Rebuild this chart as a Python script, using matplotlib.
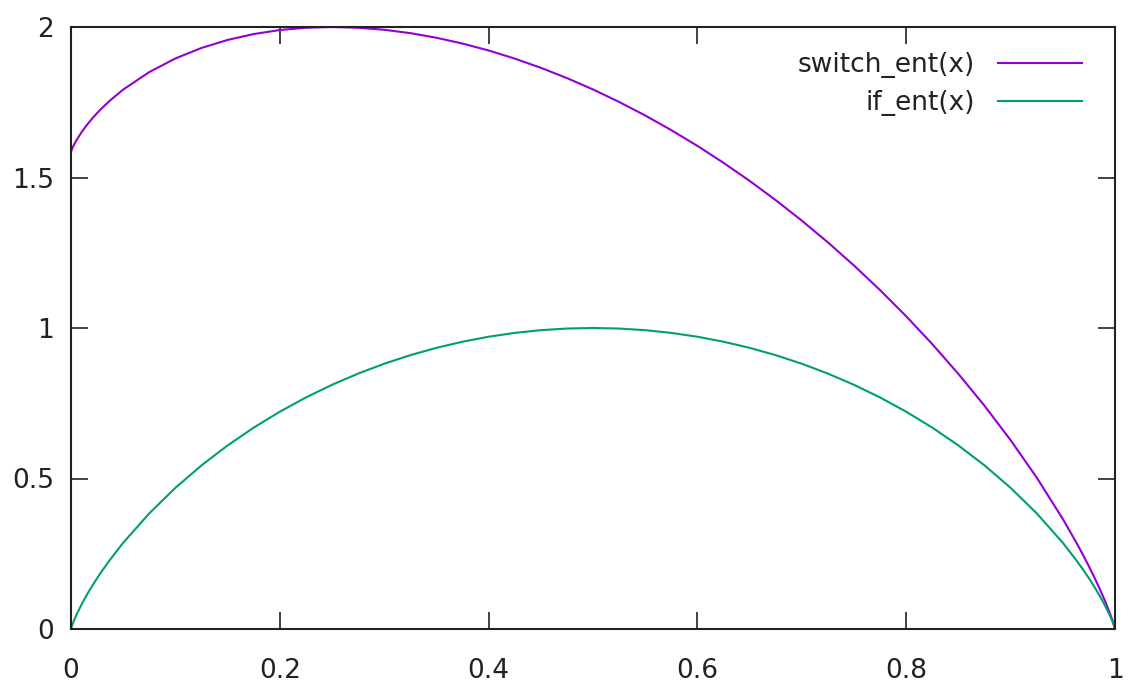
import matplotlib.pyplot as plt

###### valores ######
x = [0, 0.001, 0.0025, 0.005, 0.01, 0.015, 0.02, 0.025, 0.03, 0.0375, 0.05,
     0.075, 0.1, 0.125, 0.15, 0.175, 0.2, 0.225, 0.25, 0.275, 0.3, 0.325, 0.35,
     0.375, 0.4, 0.425, 0.45, 0.475, 0.5, 0.525, 0.55, 0.575, 0.6, 0.625, 0.65,
     0.675, 0.7, 0.725, 0.75, 0.775, 0.8, 0.825, 0.85, 0.875, 0.9, 0.925, 0.95,
     0.9625, 0.97, 0.975, 0.98, 0.985, 0.99, 0.995, 0.9975, 0.999, 1]

switch_ent = [1.585, 1.5948, 1.6062, 1.6224, 1.6499, 1.6736, 1.6947, 1.714, 1.7318,
              1.7562, 1.7921, 1.8504, 1.8955, 1.9304, 1.957, 1.9766, 1.9899, 1.9975,
              2.0, 1.9976, 1.9908, 1.9796, 1.9643, 1.945, 1.922, 1.8951, 1.8645,
              1.8303, 1.7925, 1.7511, 1.706, 1.6573, 1.605, 1.5488, 1.4888, 1.4248,
              1.3568, 1.2844, 1.2075, 1.1258, 1.0389, 0.9464, 0.8475, 0.7417, 0.6275,
              0.5032, 0.3656, 0.2901, 0.2419, 0.2083, 0.1731, 0.1362, 0.0966, 0.0533,
              0.0292, 0.013, 0]

if_ent = [0, 0.0114, 0.0252, 0.0454, 0.0808, 0.1124, 0.1414, 0.1687, 0.1944, 0.2307,
          0.2864, 0.3843, 0.469, 0.5436, 0.6098, 0.669, 0.7219, 0.7692, 0.8113,
          0.8485, 0.8813, 0.9097, 0.9341, 0.9544, 0.971, 0.9837, 0.9928, 0.9982, 1.0,
          0.9982, 0.9928, 0.9837, 0.971, 0.9544, 0.9341, 0.9097, 0.8813, 0.8485,
          0.8113, 0.7692, 0.7219, 0.669, 0.6098, 0.5436, 0.469, 0.3843, 0.2864,
          0.2307, 0.1944, 0.1687, 0.1414, 0.1124, 0.0808, 0.0454, 0.0252, 0.0114, 0]

xticks = [0, 0.2, 0.4, 0.6, 0.8, 1]
xtick_labels = ['0', '0.2', '0.4', '0.6', '0.8', '1']
yticks = [0, 0.5, 1, 1.5, 2]
ytick_labels = ['0', '0.5', '1', '1.5', '2']

###### plotar ######
fig = plt.figure(figsize=(11.34, 6.85), dpi=100)
ax = fig.add_axes([71 / 1134, 1 - 629 / 685, (1115 - 71) / 1134, (629 - 27) / 685])

ax.plot(x, switch_ent, color='#9400d3', lw=1.5, label='switch_ent(x)')
ax.plot(x, if_ent, color='#009e73', lw=1.5, label='if_ent(x)')

ax.set_xlim(0, 1)
ax.set_ylim(0, 2)
ax.set_xticks(xticks)
ax.set_xticklabels(xtick_labels)
ax.set_yticks(yticks)
ax.set_yticklabels(ytick_labels)
ax.tick_params(direction='in', length=12, width=1.2, top=True, right=True,
               labelsize=19, colors='#222222')
ax.tick_params(axis='x', pad=21)
ax.tick_params(axis='y', pad=12)
for s in ax.spines.values():
    s.set_linewidth(1.5)
    s.set_color('#222222')

leg = ax.legend(loc='upper right', frameon=False, fontsize=19, markerfirst=False,
                handlelength=3.2, handletextpad=0.85, labelspacing=0.45,
                borderpad=0, borderaxespad=0,
                bbox_to_anchor=((1082 - 71) / 1044, (629 - 52) / 602))
for t in leg.get_texts():
    t.set_ha('right')
    t.set_color('#222222')

plt.savefig('out.png', dpi=100)
